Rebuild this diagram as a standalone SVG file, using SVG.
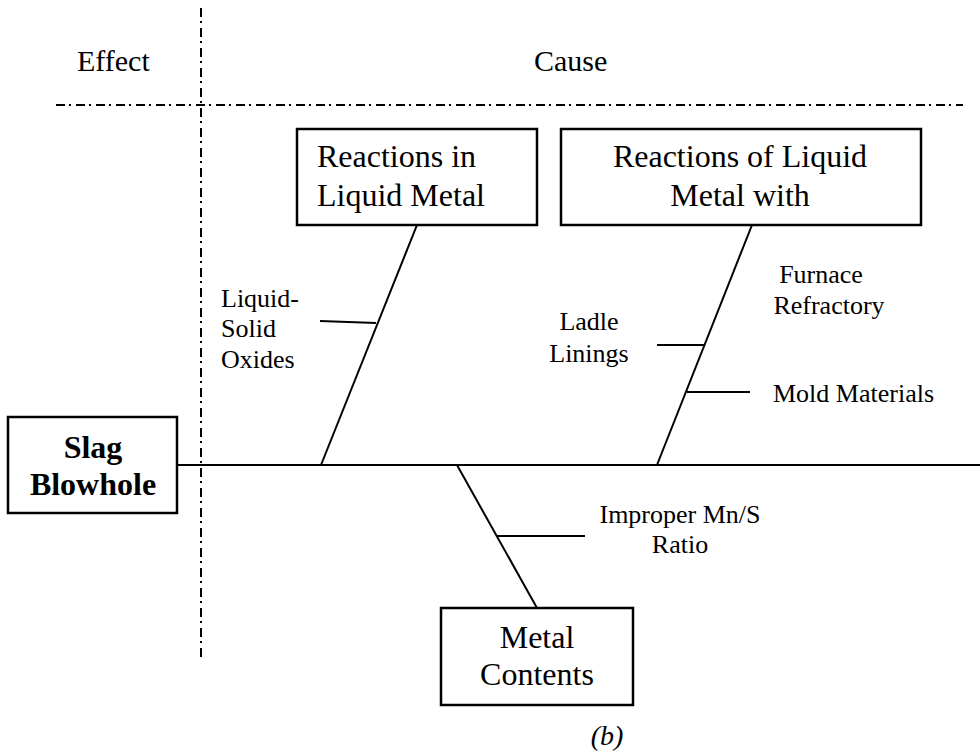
<svg xmlns="http://www.w3.org/2000/svg" width="980" height="753" viewBox="0 0 980 753">
<style>
text{font-family:"Liberation Serif","Times New Roman",serif;fill:#000}
.box{fill:#fff;stroke:#000;stroke-width:2.5}
.bt{font-size:32px}
.lb{font-size:26px}
.hd{font-size:30px}
.ln{stroke:#000;stroke-width:2;fill:none}
.dd{stroke:#000;stroke-width:2;fill:none;stroke-dasharray:9 4 2 5}
</style>
<rect width="980" height="753" fill="#fff"/>
<g id="dividers">
<line class="dd" x1="201" y1="8" x2="201" y2="658"/>
<line class="dd" x1="56" y1="105" x2="963" y2="105"/>
</g>
<text class="hd" x="77" y="71">Effect</text>
<text class="hd" x="534" y="71">Cause</text>
<g id="connectors">
<line class="ln" x1="177" y1="465" x2="980" y2="465"/>
<line class="ln" x1="417" y1="225" x2="321" y2="465"/>
<line class="ln" x1="320" y1="321" x2="376" y2="323"/>
<line class="ln" x1="752" y1="225" x2="657" y2="465"/>
<line class="ln" x1="657" y1="345" x2="704" y2="345"/>
<line class="ln" x1="687" y1="392" x2="750" y2="392"/>
<line class="ln" x1="457" y1="465" x2="537" y2="608"/>
<line class="ln" x1="497" y1="536" x2="585" y2="536"/>
</g>
<g id="effect">
<rect class="box" x="8" y="417" width="169" height="96"/>
<text class="bt" x="93" y="458" text-anchor="middle" font-weight="bold">Slag</text>
<text class="bt" x="93" y="495" text-anchor="middle" font-weight="bold">Blowhole</text>
</g>
<g id="reactions-in">
<rect class="box" x="297" y="129" width="240" height="96"/>
<text class="bt" x="317" y="167">Reactions in</text>
<text class="bt" x="317" y="206">Liquid Metal</text>
</g>
<g id="reactions-of">
<rect class="box" x="561" y="129" width="360" height="96"/>
<text class="bt" x="740" y="167" text-anchor="middle">Reactions of Liquid</text>
<text class="bt" x="740" y="206" text-anchor="middle">Metal with</text>
</g>
<g id="metal-contents">
<rect class="box" x="441" y="608" width="192" height="97"/>
<text class="bt" x="537" y="648" text-anchor="middle">Metal</text>
<text class="bt" x="537" y="685" text-anchor="middle">Contents</text>
</g>
<g id="labels">
<text class="lb" x="221" y="307">Liquid-</text>
<text class="lb" x="221" y="337">Solid</text>
<text class="lb" x="221" y="368">Oxides</text>
<text class="lb" x="589" y="330" text-anchor="middle">Ladle</text>
<text class="lb" x="589" y="362" text-anchor="middle">Linings</text>
<text class="lb" x="821" y="283" text-anchor="middle">Furnace</text>
<text class="lb" x="829" y="314" text-anchor="middle">Refractory</text>
<text class="lb" x="773" y="402">Mold Materials</text>
<text class="lb" x="680" y="523" text-anchor="middle">Improper Mn/S</text>
<text class="lb" x="680" y="553" text-anchor="middle">Ratio</text>
</g>
<text x="607" y="745" text-anchor="middle" font-size="28" font-style="italic">(b)</text>
</svg>
